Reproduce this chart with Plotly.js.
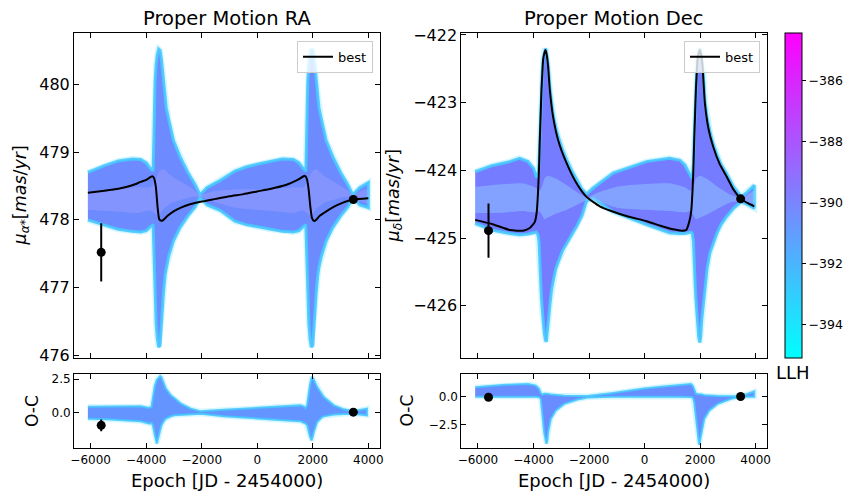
<!DOCTYPE html>
<html>
<head>
<meta charset="utf-8">
<script src="https://cdn.plot.ly/plotly-3.0.1.min.js"></script>
<style>html,body{margin:0;padding:0;background:#fff}</style>
</head>
<body>
<div id="chart" style="width:859px;height:500px"></div>
<script>
// ---------- data ----------
const epochsData = [-5620, 3460];
const raData = [477.52, 478.30];
const raErr = [0.43, 0.05];
const decData = [-424.89, -424.42];
const decErr = [0.40, 0.05];
const raOcData = [-0.91, 0.06];
const decOcData = [-0.06, 0.0];

// best-fit curve, RA
const tRaBest = [-6100,-5500,-5000,-4500,-4200,-4000,-3850,-3780,-3720,-3650,-3590,-3530,-3450,-3380,-3230,-3000,-2750,-2500,-2000,-1500,-1000,-500,0,500,1000,1300,1500,1650,1720,1790,1850,1910,1970,2040,2120,2250,2500,2750,3000,3450,4000];
const raBest = [478.40,478.43,478.46,478.51,478.56,478.59,478.63,478.645,478.62,478.48,478.19,478.01,477.985,478.00,478.06,478.13,478.18,478.22,478.27,478.31,478.35,478.38,478.42,478.46,478.51,478.56,478.60,478.64,478.65,478.60,478.45,478.20,478.03,477.985,478.00,478.06,478.13,478.19,478.24,478.30,478.32];

// envelope of the orbit draws, RA
const tRaEnv = [-6100,-5500,-5000,-4500,-4200,-4000,-3850,-3750,-3720,-3680,-3640,-3600,-3550,-3500,-3460,-3420,-3380,-3320,-3280,-3200,-3020,-2780,-2500,-2240,-2060,-1800,-1340,-800,-400,0,500,900,1300,1500,1650,1750,1780,1820,1860,1900,1950,2000,2040,2080,2120,2180,2220,2300,2480,2720,3000,3260,3440,3700,4000];
const raUpper = [478.70,478.80,478.87,478.90,478.89,478.84,478.76,478.72,479.25,480.05,480.30,480.44,480.52,480.50,480.40,480.25,480.08,479.85,479.66,479.50,479.17,478.93,478.70,478.52,478.37,478.48,478.58,478.72,478.78,478.82,478.87,478.90,478.89,478.84,478.76,478.72,479.25,480.05,480.30,480.44,480.52,480.50,480.40,480.25,480.08,479.85,479.66,479.50,479.17,478.93,478.70,478.52,478.37,478.48,478.55];
const raLower = [478.00,477.92,477.86,477.83,477.82,477.84,477.90,477.93,477.75,477.10,476.46,476.25,476.12,476.15,476.35,476.62,476.92,477.19,477.30,477.45,477.69,477.89,478.06,478.19,478.33,478.22,478.14,477.98,477.93,477.90,477.86,477.83,477.82,477.84,477.90,477.93,477.75,477.10,476.46,476.25,476.12,476.15,476.35,476.62,476.92,477.19,477.30,477.45,477.69,477.89,478.06,478.19,478.33,478.22,478.18];

// lighter streaks inside the RA band
const tRaInner = [-6100,-5000,-4300,-3850,-3700,-3550,-3400,-3100,-2700,-2300,-2060,-1600,-800,0,800,1300,1650,1800,1950,2100,2400,2800,3200,3440,3700,4000];
const raInnerUp = [478.42,478.45,478.48,478.48,478.55,478.70,478.75,478.65,478.55,478.45,478.37,478.42,478.45,478.45,478.46,478.48,478.48,478.55,478.70,478.75,478.65,478.55,478.45,478.37,478.42,478.45];
const raInnerLo = [478.15,478.12,478.10,478.14,478.10,478.05,478.15,478.25,478.30,478.34,478.34,478.27,478.18,478.15,478.12,478.10,478.14,478.10,478.05,478.15,478.25,478.30,478.34,478.34,478.28,478.25];

// best-fit curve, Dec
const tDecBest = [-6100,-5500,-4850,-4374,-4133,-3953,-3880,-3833,-3800,-3773,-3740,-3712,-3680,-3654,-3610,-3568,-3520,-3473,-3412,-3294,-3114,-2811,-2450,-2090,-1611,-1200,-600,70,600,1031,1333,1500,1608,1681,1728,1761,1788,1821,1849,1881,1907,1951,1993,2041,2088,2130,2173,2300,2472,2700,2955,3200,3470,3700,3950];
const decBest = [-424.73,-424.79,-424.88,-424.89,-424.85,-424.76,-424.60,-424.29,-423.95,-423.55,-423.15,-422.81,-422.55,-422.37,-422.27,-422.22,-422.30,-422.47,-422.81,-423.21,-423.55,-423.89,-424.19,-424.39,-424.53,-424.60,-424.68,-424.75,-424.82,-424.87,-424.89,-424.88,-424.76,-424.60,-424.29,-423.95,-423.55,-423.15,-422.81,-422.55,-422.37,-422.27,-422.22,-422.30,-422.47,-422.75,-423.01,-423.38,-423.65,-423.90,-424.09,-424.28,-424.42,-424.48,-424.53];

// envelope of the orbit draws, Dec
const tDecEnv = [-6100,-5500,-4850,-4500,-4200,-4000,-3900,-3840,-3800,-3770,-3740,-3710,-3680,-3650,-3610,-3570,-3540,-3500,-3470,-3410,-3350,-3290,-3200,-3110,-2950,-2810,-2600,-2450,-2250,-2090,-1850,-1130,70,900,1270,1450,1570,1680,1720,1760,1790,1820,1850,1880,1910,1950,1990,2020,2060,2110,2173,2250,2350,2472,2600,2750,2955,3200,3480,3700,3950];
const decUpper = [-424.02,-423.93,-423.87,-423.82,-423.87,-423.97,-424.09,-424.10,-423.90,-423.50,-423.12,-422.78,-422.52,-422.35,-422.24,-422.20,-422.24,-422.36,-422.45,-422.78,-423.00,-423.18,-423.36,-423.50,-423.70,-423.84,-424.02,-424.14,-424.28,-424.35,-424.26,-424.04,-423.87,-423.82,-423.85,-423.92,-424.02,-424.10,-424.10,-423.90,-423.50,-423.12,-422.78,-422.52,-422.35,-422.24,-422.20,-422.24,-422.36,-422.55,-422.97,-423.22,-423.42,-423.61,-423.76,-423.91,-424.05,-424.24,-424.39,-424.32,-424.22];
const decLower = [-424.78,-424.88,-424.93,-424.95,-424.94,-424.92,-424.91,-424.95,-425.05,-425.35,-425.65,-425.90,-426.10,-426.22,-426.40,-426.50,-426.53,-426.42,-426.26,-425.98,-425.76,-425.63,-425.45,-425.35,-425.18,-425.07,-424.93,-424.83,-424.66,-424.45,-424.41,-424.61,-424.80,-424.92,-424.93,-424.93,-424.92,-424.91,-424.93,-425.05,-425.35,-425.65,-425.90,-426.10,-426.25,-426.45,-426.54,-426.45,-426.20,-425.95,-425.72,-425.45,-425.22,-425.08,-424.93,-424.80,-424.68,-424.56,-424.46,-424.50,-424.56];

// lighter (cyan / white) streaks inside the Dec band
const tDecInner = [-6100,-5000,-4400,-3950,-3800,-3700,-3600,-3500,-3200,-2800,-2400,-2090,-1700,-1000,0,900,1450,1650,1750,1850,1990,2300,2700,3100,3480,3950];
const decInnerUp = [-424.24,-424.20,-424.19,-424.25,-424.30,-424.25,-424.12,-424.08,-424.12,-424.22,-424.33,-424.40,-424.33,-424.24,-424.20,-424.19,-424.25,-424.30,-424.25,-424.12,-424.08,-424.14,-424.26,-424.36,-424.41,-424.30];
const decInnerLo = [-424.63,-424.62,-424.60,-424.62,-424.60,-424.65,-424.72,-424.70,-424.64,-424.58,-424.50,-424.44,-424.46,-424.55,-424.58,-424.60,-424.62,-424.60,-424.65,-424.72,-424.70,-424.64,-424.55,-424.47,-424.45,-424.48];

// O-C envelope, RA
const tOcRa = [-6100,-5400,-4600,-4200,-3900,-3810,-3760,-3712,-3688,-3616,-3560,-3496,-3450,-3420,-3352,-3293,-3113,-2993,-2754,-2395,-2035,-1200,0,600,1100,1560,1700,1740,1797,1857,1900,1955,1977,2037,2100,2156,2336,2396,2756,3115,3450,3950];
const ocRaUpper = [0.46,0.49,0.50,0.49,0.37,0.44,1.10,1.79,2.00,2.45,2.62,2.72,2.62,2.45,2.04,1.80,1.30,1.08,0.69,0.32,0.12,0.24,0.37,0.45,0.52,0.56,0.45,0.34,0.60,1.60,2.10,2.55,2.65,2.45,2.15,1.91,1.35,1.18,0.56,0.27,0.12,0.32];
const ocRaLower = [-0.42,-0.47,-0.55,-0.61,-0.78,-0.75,-0.90,-1.35,-1.64,-2.25,-1.90,-1.25,-0.91,-0.75,-0.55,-0.42,-0.24,-0.17,-0.12,-0.08,-0.05,-0.24,-0.42,-0.49,-0.55,-0.61,-0.75,-0.78,-0.91,-1.45,-1.75,-2.01,-1.90,-1.40,-0.95,-0.66,-0.30,-0.25,-0.12,-0.08,-0.05,-0.17];

// O-C envelope, Dec
const tOcDec = [-6100,-5000,-4200,-3920,-3800,-3737,-3676,-3617,-3560,-3532,-3500,-3473,-3377,-3196,-2896,-2415,-2055,-1200,-600,0,600,1200,1669,1740,1788,1849,1909,1950,1968,1990,2053,2149,2329,2629,3110,3470,3950];
const ocDecUpper = [0.83,1.05,1.13,0.98,0.70,0.30,0.15,0.25,0.25,0.25,0.25,0.22,0.18,0.12,0.08,0.04,0.04,0.30,0.54,0.72,0.88,1.05,1.13,0.95,0.55,0.25,0.22,0.22,0.22,0.20,0.18,0.12,0.08,0.04,0.02,0.02,0.45];
const ocDecLower = [-0.02,-0.02,-0.02,-0.02,-0.05,-0.21,-1.70,-3.19,-3.95,-4.23,-3.90,-3.19,-2.00,-1.25,-0.66,-0.27,-0.09,-0.03,-0.01,-0.01,-0.02,-0.03,-0.05,-0.10,-0.51,-1.70,-3.19,-4.00,-4.32,-4.05,-3.19,-2.00,-1.25,-0.66,-0.21,-0.03,-0.03];

// colour bar (log-likelihood)
const llhLimits = [-395.1, -384.44];
const llhTicks = [-394, -392, -390, -388, -386];
const epochTicks = [-6000, -4000, -2000, 0, 2000, 4000];

// ---------- styles ----------
const FONT = 'DejaVu Sans, sans-serif';
const bandEdge = 'rgba(70,200,255,0.9)';
const bandGlow = 'rgba(130,230,255,0.35)';

function bandTraces(t, up, lo, xa, ya, fillColor, edgeW) {
  const x = t.concat(t.slice().reverse());
  const y = up.concat(lo.slice().reverse());
  return [
    {type:'scatter', mode:'lines', x:x, y:y, xaxis:xa, yaxis:ya,
     line:{color:bandGlow, width:edgeW + 3}, hoverinfo:'skip', showlegend:false},
    {type:'scatter', mode:'lines', x:x, y:y, xaxis:xa, yaxis:ya, fill:'toself',
     fillcolor:fillColor, line:{color:bandEdge, width:edgeW}, hoverinfo:'skip', showlegend:false}
  ];
}
function innerTrace(t, up, lo, xa, ya, fillColor) {
  return {type:'scatter', mode:'lines', x:t.concat(t.slice().reverse()), y:up.concat(lo.slice().reverse()),
    xaxis:xa, yaxis:ya, fill:'toself', fillcolor:fillColor, line:{width:0, shape:'spline', smoothing:0.6},
    hoverinfo:'skip', showlegend:false};
}

function pointsTrace(y, err, xa, ya) {
  return {type:'scatter', mode:'markers', x:epochsData, y:y, xaxis:xa, yaxis:ya,
    marker:{color:'black', size:9},
    error_y: err ? {type:'data', array:err, visible:true, color:'black', thickness:2, width:0} : undefined,
    showlegend:false, hoverinfo:'skip'};
}

const traces = [].concat(
  bandTraces(tRaEnv, raUpper, raLower, 'x', 'y', 'rgb(110,138,255)', 3),
  [innerTrace(tRaInner, raInnerUp, raInnerLo, 'x', 'y', 'rgba(185,175,255,0.28)')],
  [{type:'scatter', mode:'lines', x:tRaBest, y:raBest, xaxis:'x', yaxis:'y', name:'best',
    line:{color:'black', width:2, shape:'spline', smoothing:0.5}, legend:'legend'}],
  [pointsTrace(raData, raErr, 'x', 'y')],
  bandTraces(tOcRa, ocRaUpper, ocRaLower, 'x2', 'y2', 'rgb(100,148,255)', 2),
  [pointsTrace(raOcData, raErr, 'x2', 'y2')],
  bandTraces(tDecEnv, decUpper, decLower, 'x3', 'y3', 'rgb(118,124,255)', 3),
  [innerTrace(tDecInner, decInnerUp, decInnerLo, 'x3', 'y3', 'rgba(150,215,255,0.42)')],
  [{type:'scatter', mode:'lines', x:tDecBest, y:decBest, xaxis:'x3', yaxis:'y3', name:'best',
    line:{color:'black', width:2, shape:'spline', smoothing:0.5}, legend:'legend2'}],
  [pointsTrace(decData, decErr, 'x3', 'y3')],
  bandTraces(tOcDec, ocDecUpper, ocDecLower, 'x4', 'y4', 'rgb(105,140,255)', 2),
  [pointsTrace(decOcData, null, 'x4', 'y4')],
  [{type:'scatter', mode:'markers', x:[null, null], y:[null, null], xaxis:'x3', yaxis:'y3',
    showlegend:false, hoverinfo:'skip',
    marker:{color:llhLimits, cmin:llhLimits[0], cmax:llhLimits[1],
      colorscale:[[0,'rgb(0,255,255)'],[1,'rgb(255,0,255)']], showscale:true,
      colorbar:{thickness:17, thicknessmode:'pixels', len:325, lenmode:'pixels',
        x:785.3/859, xanchor:'left', y:1-33.3/500, yanchor:'top', xpad:0, ypad:0,
        outlinewidth:1, outlinecolor:'black', borderwidth:0,
        tickvals:llhTicks, ticks:'outside', ticklen:4, tickwidth:1, tickcolor:'black',
        tickfont:{family:FONT, size:12.5, color:'black'}}}}]
);

const axBase = {showline:true, linecolor:'black', linewidth:1, mirror:'ticks', ticks:'inside',
  ticklen:5, tickwidth:1, tickcolor:'black', showgrid:false, zeroline:false, fixedrange:true};
const xRange = [-6600, 4420];
const topDom = [1-358/500, 1-33.3/500];
const botDom = [1-448.3/500, 1-374/500];
const leftDom = [74/859, 380/859];
const rightDom = [461.3/859, 767.3/859];

const layout = {
  width:859, height:500, margin:{l:0, r:0, t:0, b:0},
  paper_bgcolor:'white', plot_bgcolor:'white',
  font:{family:FONT, color:'black'},
  xaxis: Object.assign({}, axBase, {domain:leftDom, anchor:'y', range:xRange, tickvals:epochTicks, showticklabels:false}),
  yaxis: Object.assign({}, axBase, {domain:topDom, anchor:'x', range:[475.96, 480.755], dtick:1, tick0:0, tickfont:{size:16}}),
  xaxis2: Object.assign({}, axBase, {domain:leftDom, anchor:'y2', range:xRange, tickvals:epochTicks, tickfont:{size:12}}),
  yaxis2: Object.assign({}, axBase, {domain:botDom, anchor:'x2', range:[-2.6, 2.87], tickvals:[0, 2.5], tickformat:'.1f', tickfont:{size:12}}),
  xaxis3: Object.assign({}, axBase, {domain:rightDom, anchor:'y3', range:xRange, tickvals:epochTicks, showticklabels:false}),
  yaxis3: Object.assign({}, axBase, {domain:topDom, anchor:'x3', range:[-426.77, -421.975], dtick:1, tick0:0, tickfont:{size:16}}),
  xaxis4: Object.assign({}, axBase, {domain:rightDom, anchor:'y4', range:xRange, tickvals:epochTicks, tickfont:{size:12}}),
  yaxis4: Object.assign({}, axBase, {domain:botDom, anchor:'x4', range:[-4.64, 2.02], tickvals:[-2.5, 0], tickformat:'.1f', tickfont:{size:12}}),
  legend:{x:373/859, xanchor:'right', y:1-40.7/500, yanchor:'top', bgcolor:'rgba(255,255,255,0.8)',
    bordercolor:'#cccccc', borderwidth:1, font:{size:13}},
  legend2:{x:760/859, xanchor:'right', y:1-40.7/500, yanchor:'top', bgcolor:'rgba(255,255,255,0.8)',
    bordercolor:'#cccccc', borderwidth:1, font:{size:13}},
  annotations:[
    {text:'Proper Motion RA', x:227/859, y:1-18/500, xref:'paper', yref:'paper', showarrow:false, xanchor:'center', yanchor:'middle', font:{size:19.5}},
    {text:'Proper Motion Dec', x:614.3/859, y:1-18/500, xref:'paper', yref:'paper', showarrow:false, xanchor:'center', yanchor:'middle', font:{size:19.5}},
    {text:'<i>μ</i><sub><i>α*</i></sub>[<i>mas</i>/<i>yr</i>]', x:21/859, y:1-195.5/500, xref:'paper', yref:'paper', showarrow:false, textangle:-90, xanchor:'center', yanchor:'middle', font:{size:17.5}},
    {text:'<i>μ</i><sub><i>δ</i></sub>[<i>mas</i>/<i>yr</i>]', x:394/859, y:1-195.5/500, xref:'paper', yref:'paper', showarrow:false, textangle:-90, xanchor:'center', yanchor:'middle', font:{size:17.5}},
    {text:'O-C', x:32/859, y:1-411/500, xref:'paper', yref:'paper', showarrow:false, textangle:-90, xanchor:'center', yanchor:'middle', font:{size:17}},
    {text:'O-C', x:406.5/859, y:1-411/500, xref:'paper', yref:'paper', showarrow:false, textangle:-90, xanchor:'center', yanchor:'middle', font:{size:17}},
    {text:'Epoch [JD - 2454000)', x:227/859, y:1-480/500, xref:'paper', yref:'paper', showarrow:false, xanchor:'center', yanchor:'middle', font:{size:18}},
    {text:'Epoch [JD - 2454000)', x:614.3/859, y:1-480/500, xref:'paper', yref:'paper', showarrow:false, xanchor:'center', yanchor:'middle', font:{size:18}},
    {text:'LLH', x:793/859, y:1-372/500, xref:'paper', yref:'paper', showarrow:false, xanchor:'center', yanchor:'middle', font:{size:18}}
  ]
};

Plotly.newPlot('chart', traces, layout, {displayModeBar:false, staticPlot:true});
</script>
</body>
</html>
